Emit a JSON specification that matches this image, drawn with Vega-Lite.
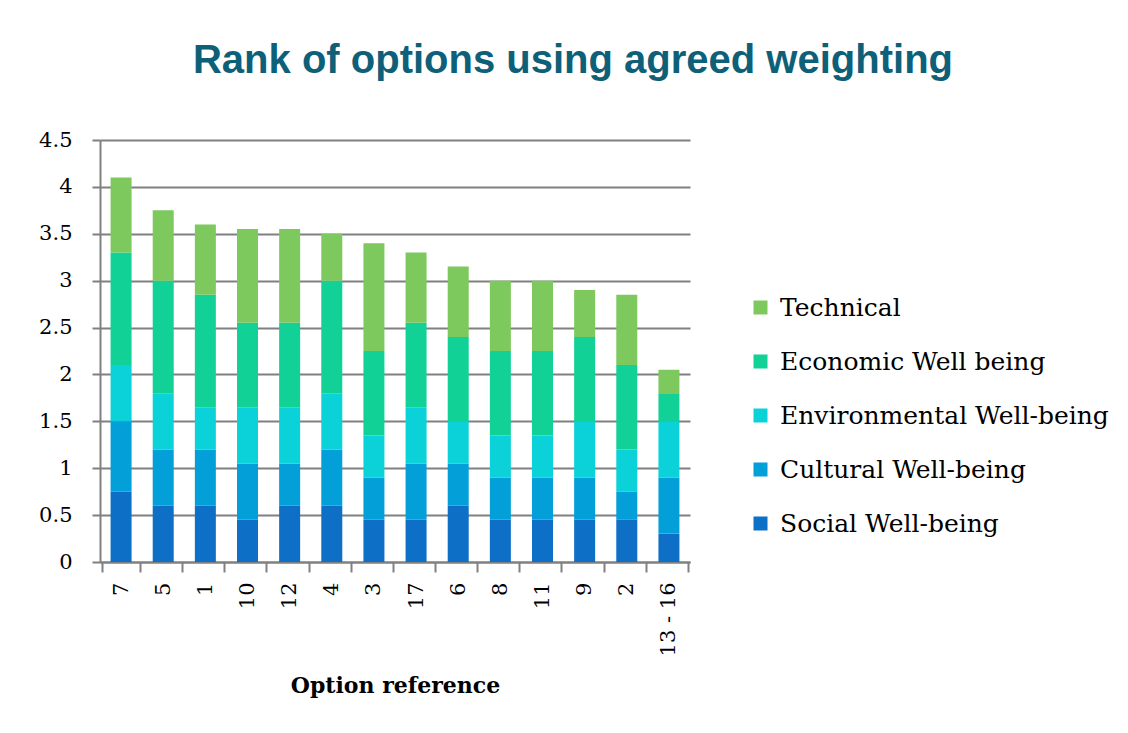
{
  "$schema": "https://vega.github.io/schema/vega-lite/v6.json",
  "width": 590,
  "height": 422,
  "autosize": "none",
  "padding": {"left": 100, "top": 140, "right": 438, "bottom": 171},
  "background": "white",
  "title": {
    "text": "Rank of options using agreed weighting",
    "font": "Liberation Sans",
    "fontSize": 40,
    "fontWeight": "bold",
    "color": "#0e6079",
    "anchor": "middle",
    "frame": "group",
    "dx": 178,
    "offset": 48
  },
  "data": {
    "values": [
      {"option": "7", "category": "Social Well-being", "k": 1, "value": 0.75},
      {"option": "7", "category": "Cultural Well-being", "k": 2, "value": 0.75},
      {"option": "7", "category": "Environmental Well-being", "k": 3, "value": 0.6},
      {"option": "7", "category": "Economic Well  being", "k": 4, "value": 1.2},
      {"option": "7", "category": "Technical", "k": 5, "value": 0.8},
      {"option": "5", "category": "Social Well-being", "k": 1, "value": 0.6},
      {"option": "5", "category": "Cultural Well-being", "k": 2, "value": 0.6},
      {"option": "5", "category": "Environmental Well-being", "k": 3, "value": 0.6},
      {"option": "5", "category": "Economic Well  being", "k": 4, "value": 1.2},
      {"option": "5", "category": "Technical", "k": 5, "value": 0.75},
      {"option": "1", "category": "Social Well-being", "k": 1, "value": 0.6},
      {"option": "1", "category": "Cultural Well-being", "k": 2, "value": 0.6},
      {"option": "1", "category": "Environmental Well-being", "k": 3, "value": 0.45},
      {"option": "1", "category": "Economic Well  being", "k": 4, "value": 1.2},
      {"option": "1", "category": "Technical", "k": 5, "value": 0.75},
      {"option": "10", "category": "Social Well-being", "k": 1, "value": 0.45},
      {"option": "10", "category": "Cultural Well-being", "k": 2, "value": 0.6},
      {"option": "10", "category": "Environmental Well-being", "k": 3, "value": 0.6},
      {"option": "10", "category": "Economic Well  being", "k": 4, "value": 0.9},
      {"option": "10", "category": "Technical", "k": 5, "value": 1.0},
      {"option": "12", "category": "Social Well-being", "k": 1, "value": 0.6},
      {"option": "12", "category": "Cultural Well-being", "k": 2, "value": 0.45},
      {"option": "12", "category": "Environmental Well-being", "k": 3, "value": 0.6},
      {"option": "12", "category": "Economic Well  being", "k": 4, "value": 0.9},
      {"option": "12", "category": "Technical", "k": 5, "value": 1.0},
      {"option": "4", "category": "Social Well-being", "k": 1, "value": 0.6},
      {"option": "4", "category": "Cultural Well-being", "k": 2, "value": 0.6},
      {"option": "4", "category": "Environmental Well-being", "k": 3, "value": 0.6},
      {"option": "4", "category": "Economic Well  being", "k": 4, "value": 1.2},
      {"option": "4", "category": "Technical", "k": 5, "value": 0.5},
      {"option": "3", "category": "Social Well-being", "k": 1, "value": 0.45},
      {"option": "3", "category": "Cultural Well-being", "k": 2, "value": 0.45},
      {"option": "3", "category": "Environmental Well-being", "k": 3, "value": 0.45},
      {"option": "3", "category": "Economic Well  being", "k": 4, "value": 0.9},
      {"option": "3", "category": "Technical", "k": 5, "value": 1.15},
      {"option": "17", "category": "Social Well-being", "k": 1, "value": 0.45},
      {"option": "17", "category": "Cultural Well-being", "k": 2, "value": 0.6},
      {"option": "17", "category": "Environmental Well-being", "k": 3, "value": 0.6},
      {"option": "17", "category": "Economic Well  being", "k": 4, "value": 0.9},
      {"option": "17", "category": "Technical", "k": 5, "value": 0.75},
      {"option": "6", "category": "Social Well-being", "k": 1, "value": 0.6},
      {"option": "6", "category": "Cultural Well-being", "k": 2, "value": 0.45},
      {"option": "6", "category": "Environmental Well-being", "k": 3, "value": 0.45},
      {"option": "6", "category": "Economic Well  being", "k": 4, "value": 0.9},
      {"option": "6", "category": "Technical", "k": 5, "value": 0.75},
      {"option": "8", "category": "Social Well-being", "k": 1, "value": 0.45},
      {"option": "8", "category": "Cultural Well-being", "k": 2, "value": 0.45},
      {"option": "8", "category": "Environmental Well-being", "k": 3, "value": 0.45},
      {"option": "8", "category": "Economic Well  being", "k": 4, "value": 0.9},
      {"option": "8", "category": "Technical", "k": 5, "value": 0.75},
      {"option": "11", "category": "Social Well-being", "k": 1, "value": 0.45},
      {"option": "11", "category": "Cultural Well-being", "k": 2, "value": 0.45},
      {"option": "11", "category": "Environmental Well-being", "k": 3, "value": 0.45},
      {"option": "11", "category": "Economic Well  being", "k": 4, "value": 0.9},
      {"option": "11", "category": "Technical", "k": 5, "value": 0.75},
      {"option": "9", "category": "Social Well-being", "k": 1, "value": 0.45},
      {"option": "9", "category": "Cultural Well-being", "k": 2, "value": 0.45},
      {"option": "9", "category": "Environmental Well-being", "k": 3, "value": 0.6},
      {"option": "9", "category": "Economic Well  being", "k": 4, "value": 0.9},
      {"option": "9", "category": "Technical", "k": 5, "value": 0.5},
      {"option": "2", "category": "Social Well-being", "k": 1, "value": 0.45},
      {"option": "2", "category": "Cultural Well-being", "k": 2, "value": 0.3},
      {"option": "2", "category": "Environmental Well-being", "k": 3, "value": 0.45},
      {"option": "2", "category": "Economic Well  being", "k": 4, "value": 0.9},
      {"option": "2", "category": "Technical", "k": 5, "value": 0.75},
      {"option": "13 - 16", "category": "Social Well-being", "k": 1, "value": 0.3},
      {"option": "13 - 16", "category": "Cultural Well-being", "k": 2, "value": 0.6},
      {"option": "13 - 16", "category": "Environmental Well-being", "k": 3, "value": 0.6},
      {"option": "13 - 16", "category": "Economic Well  being", "k": 4, "value": 0.3},
      {"option": "13 - 16", "category": "Technical", "k": 5, "value": 0.25}
    ]
  },
  "mark": {"type": "bar", "width": 21},
  "encoding": {
    "x": {
      "field": "option",
      "type": "nominal",
      "sort": ["7", "5", "1", "10", "12", "4", "3", "17", "6", "8", "11", "9", "2", "13 - 16"],
      "axis": {
        "title": "Option reference",
        "titleFont": "DejaVu Serif",
        "titleFontSize": 22,
        "titleFontWeight": "bold",
        "titleColor": "#000000",
        "titlePadding": 20,
        "labelFont": "DejaVu Serif",
        "labelFontSize": 21,
        "labelColor": "#000000",
        "labelAngle": -90,
        "labelPadding": 10,
        "tickBand": "extent",
        "tickSize": 10,
        "tickWidth": 2,
        "tickColor": "#808080",
        "domainColor": "#808080",
        "domainWidth": 2
      }
    },
    "y": {
      "field": "value",
      "type": "quantitative",
      "aggregate": "sum",
      "stack": "zero",
      "scale": {"domain": [0, 4.5], "nice": false},
      "axis": {
        "title": null,
        "values": [0, 0.5, 1, 1.5, 2, 2.5, 3, 3.5, 4, 4.5],
        "labelExpr": "'' + datum.value",
        "labelFont": "DejaVu Serif",
        "labelFontSize": 21,
        "labelColor": "#000000",
        "labelPadding": 20,
        "tickSize": 8,
        "tickWidth": 2,
        "tickColor": "#808080",
        "domainColor": "#808080",
        "domainWidth": 2,
        "grid": true,
        "gridColor": "#808080",
        "gridWidth": 2
      }
    },
    "color": {
      "field": "category",
      "type": "nominal",
      "scale": {
        "domain": ["Technical", "Economic Well  being", "Environmental Well-being", "Cultural Well-being", "Social Well-being"],
        "range": ["#7dc95e", "#12d196", "#0ad2d8", "#029fd9", "#0d6fc6"]
      },
      "legend": {
        "title": null,
        "orient": "none",
        "legendX": 648,
        "legendY": 155,
        "symbolType": "square",
        "symbolSize": 196,
        "symbolStrokeWidth": 0,
        "labelFont": "DejaVu Serif",
        "labelFontSize": 25,
        "labelColor": "#000000",
        "labelOffset": 7,
        "rowPadding": 28,
        "labelLimit": 400
      }
    },
    "order": {"field": "k", "type": "quantitative", "sort": "ascending"}
  },
  "config": {
    "view": {"stroke": null}
  }
}
